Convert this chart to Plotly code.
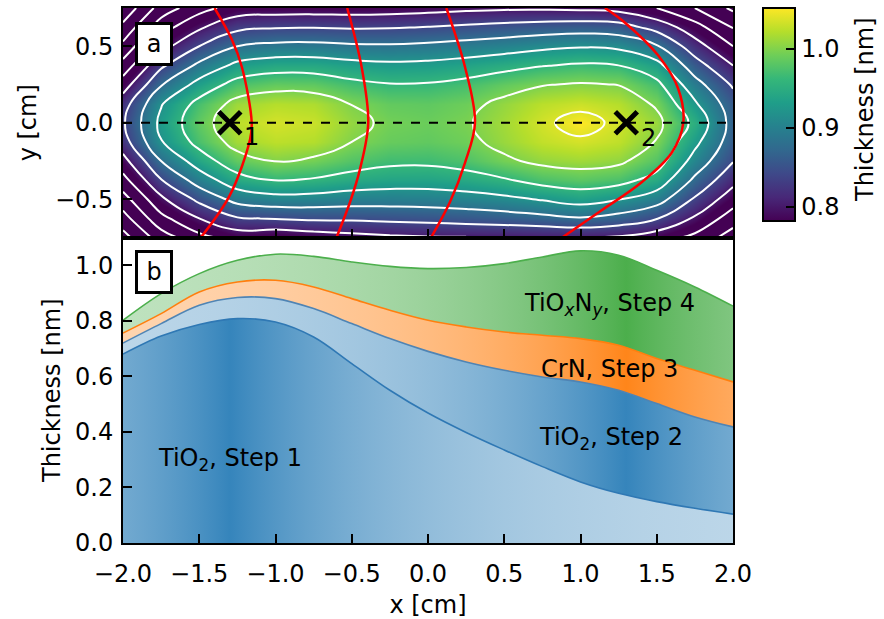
import numpy as np
import plotly.graph_objects as go

# ---------------- data: panel a (thickness map) ----------------
MAP_X = [-2.0, -1.75, -1.5, -1.25, -1.0, -0.75, -0.5, -0.25, 0.0,
         0.25, 0.5, 0.75, 1.0, 1.25, 1.5, 1.75, 2.0]
MAP_Y = [-0.75, -0.625, -0.5, -0.375, -0.25, -0.125, 0.0,
         0.125, 0.25, 0.375, 0.5, 0.625, 0.75]
# one list per x column, values from y=-0.75 up to y=0.75 (nm)
MAP_COLUMNS = [
    [0.625, 0.664, 0.703, 0.746, 0.786, 0.823, 0.835, 0.822, 0.780, 0.735, 0.690, 0.650, 0.610],
    [0.700, 0.748, 0.792, 0.838, 0.880, 0.918, 0.930, 0.917, 0.877, 0.832, 0.785, 0.742, 0.697],
    [0.748, 0.800, 0.850, 0.898, 0.940, 0.973, 0.985, 0.972, 0.934, 0.889, 0.840, 0.794, 0.745],
    [0.776, 0.837, 0.893, 0.945, 0.985, 1.014, 1.025, 1.012, 0.975, 0.930, 0.880, 0.830, 0.777],
    [0.770, 0.842, 0.905, 0.961, 1.001, 1.025, 1.035, 1.022, 0.987, 0.942, 0.890, 0.837, 0.780],
    [0.779, 0.847, 0.904, 0.956, 0.994, 1.021, 1.030, 1.019, 0.985, 0.942, 0.891, 0.838, 0.781],
    [0.787, 0.847, 0.899, 0.945, 0.978, 1.000, 1.008, 0.999, 0.970, 0.933, 0.886, 0.836, 0.780],
    [0.793, 0.850, 0.898, 0.939, 0.968, 0.988, 0.994, 0.986, 0.962, 0.928, 0.885, 0.837, 0.782],
    [0.797, 0.853, 0.899, 0.938, 0.967, 0.985, 0.990, 0.984, 0.963, 0.930, 0.889, 0.841, 0.786],
    [0.798, 0.857, 0.904, 0.944, 0.975, 0.992, 0.997, 0.991, 0.971, 0.937, 0.895, 0.847, 0.791],
    [0.798, 0.862, 0.911, 0.956, 0.994, 1.010, 1.014, 1.008, 0.986, 0.947, 0.902, 0.853, 0.794],
    [0.799, 0.869, 0.923, 0.974, 1.008, 1.027, 1.034, 1.024, 0.998, 0.958, 0.911, 0.858, 0.794],
    [0.800, 0.877, 0.936, 0.982, 1.013, 1.035, 1.052, 1.031, 1.003, 0.965, 0.917, 0.861, 0.792],
    [0.795, 0.866, 0.921, 0.974, 1.007, 1.026, 1.033, 1.022, 0.999, 0.960, 0.912, 0.857, 0.786],
    [0.778, 0.842, 0.898, 0.945, 0.978, 0.998, 1.010, 0.995, 0.970, 0.933, 0.884, 0.826, 0.760],
    [0.750, 0.795, 0.835, 0.872, 0.905, 0.930, 0.950, 0.925, 0.895, 0.858, 0.818, 0.776, 0.720],
    [0.700, 0.740, 0.778, 0.812, 0.842, 0.860, 0.865, 0.858, 0.835, 0.800, 0.760, 0.718, 0.672],
]
COLOR_MIN, COLOR_MAX = 0.782, 1.052
COLORBAR_TICKS = [0.8, 0.9, 1.0]

# red paths across the map (x, y in cm)
RED_X = [
    [-1.40, -1.287, -1.22, -1.156, -1.167, -1.30, -1.49],
    [-0.53, -0.435, -0.392, -0.446, -0.511, -0.60],
    [0.12, 0.243, 0.308, 0.243, 0.144, 0.02],
    [1.16, 1.292, 1.51, 1.64, 1.674, 1.598, 1.401, 1.139, 0.88],
]
RED_Y = [
    [0.75, 0.546, 0.363, 0.0, -0.11, -0.475, -0.75],
    [0.75, 0.363, 0.0, -0.303, -0.518, -0.75],
    [0.75, 0.363, 0.0, -0.26, -0.518, -0.75],
    [0.75, 0.654, 0.439, 0.224, 0.0, -0.196, -0.389, -0.572, -0.75],
]

MARK_X = [-1.3, 1.3]
MARK_Y = [0.0, 0.0]
MARK_LABELS = ["1", "2"]
MARK_LABEL_X = [-1.155, 1.443]
MARK_LABEL_Y = [-0.09, -0.10]

# ---------------- data: panel b (stacked thickness along y=0) ----------------
PROFILE_X = MAP_X
STEP1_TOP = [0.680, 0.745, 0.787, 0.808, 0.796, 0.742, 0.646, 0.550, 0.468,
             0.398, 0.335, 0.275, 0.220, 0.179, 0.149, 0.125, 0.104]
STEP2_TOP = [0.720, 0.790, 0.856, 0.884, 0.880, 0.844, 0.790, 0.736, 0.690,
             0.652, 0.622, 0.598, 0.580, 0.550, 0.502, 0.454, 0.418]
STEP3_TOP = [0.756, 0.826, 0.904, 0.940, 0.946, 0.922, 0.880, 0.838, 0.802,
             0.778, 0.760, 0.748, 0.736, 0.712, 0.664, 0.622, 0.580]
STEP4_TOP = [0.802, 0.898, 0.970, 1.018, 1.040, 1.032, 1.012, 0.996, 0.988,
             0.992, 1.006, 1.030, 1.052, 1.036, 0.982, 0.922, 0.853]

LAYER_NAMES = ["TiO<sub>2</sub>, Step 1", "TiO<sub>2</sub>, Step 2",
               "CrN, Step 3", "TiO<sub><i>x</i></sub>N<sub><i>y</i></sub>, Step 4"]
LAYER_LABEL_X = [-1.30, 1.20, 1.19, 1.19]
LAYER_LABEL_Y = [0.30, 0.375, 0.625, 0.86]
LAYER_CENTERS = [-1.3, 1.3, 1.3, 1.3]

FONT = "DejaVu Sans"
FS = 24

BLUE = (31, 119, 180)
ORANGE = (255, 127, 14)
GREEN = (44, 160, 44)


def gradient(center, rgb, a_hi, a_lo):
    scale = []
    n = 40
    for i in range(n + 1):
        xv = -2 + 4 * i / n
        a = a_lo + (a_hi - a_lo) * np.exp(-abs(xv - center) / 1.3)
        scale.append([i / n, f"rgba({rgb[0]},{rgb[1]},{rgb[2]},{a:.3f})"])
    return dict(type="horizontal", colorscale=scale, start=-2, stop=2)


Z = np.array(MAP_COLUMNS).T.tolist()

fig = go.Figure()

fig.add_trace(go.Heatmap(
    x=MAP_X, y=MAP_Y, z=Z, zsmooth="best", colorscale="Viridis",
    zmin=COLOR_MIN, zmax=COLOR_MAX, xaxis="x", yaxis="y", hoverinfo="skip",
    colorbar=dict(
        x=1.0492, xanchor="left", y=1.0, yanchor="top", len=0.398,
        lenmode="fraction", thickness=32, thicknessmode="pixels",
        outlinecolor="black", outlinewidth=2, xpad=0, ypad=0,
        ticks="inside", ticklen=10, tickwidth=2, tickcolor="black",
        tickvals=COLORBAR_TICKS, ticktext=[f"{t:.1f}" for t in COLORBAR_TICKS],
        tickfont=dict(family=FONT, size=FS, color="black"),
    ),
))

fig.add_trace(go.Contour(
    x=MAP_X, y=MAP_Y, z=Z, xaxis="x", yaxis="y", showscale=False,
    contours=dict(start=0.60, end=1.04, size=0.04, coloring="none"),
    line=dict(color="white", width=2, smoothing=1.3), hoverinfo="skip",
))

for rx, ry in zip(RED_X, RED_Y):
    fig.add_trace(go.Scatter(x=rx, y=ry, mode="lines", xaxis="x", yaxis="y",
                             line=dict(color="red", width=2.5, shape="spline"),
                             hoverinfo="skip", showlegend=False))

fig.add_trace(go.Scatter(
    x=MARK_X, y=MARK_Y, mode="markers", xaxis="x", yaxis="y",
    marker=dict(symbol="x-thin", size=22, color="black",
                line=dict(color="black", width=5)),
    showlegend=False, hoverinfo="skip"))

# panel b layers
tops = [STEP1_TOP, STEP2_TOP, STEP3_TOP, STEP4_TOP]
grads = [gradient(LAYER_CENTERS[0], BLUE, 0.9, 0.25),
         gradient(LAYER_CENTERS[1], BLUE, 0.9, 0.25),
         gradient(LAYER_CENTERS[2], ORANGE, 0.95, 0.28),
         gradient(LAYER_CENTERS[3], GREEN, 0.85, 0.26)]
line_cols = ["#2f78b4", "#4f84b4", "#ff7f0e", "#4caf4c"]
for i, (top, g, lc) in enumerate(zip(tops, grads, line_cols)):
    fig.add_trace(go.Scatter(
        x=PROFILE_X, y=top, mode="lines", xaxis="x2", yaxis="y2",
        fill="tozeroy" if i == 0 else "tonexty", fillgradient=g,
        line=dict(color=lc, width=1.6, shape="spline", smoothing=1.0),
        showlegend=False, hoverinfo="skip"))

annotations = []
for t, lx, ly in zip(MARK_LABELS, MARK_LABEL_X, MARK_LABEL_Y):
    annotations.append(dict(x=lx, y=ly, xref="x", yref="y", text=t, showarrow=False,
                            font=dict(family=FONT, size=FS, color="black")))
for t, lx, ly in zip(LAYER_NAMES, LAYER_LABEL_X, LAYER_LABEL_Y):
    annotations.append(dict(x=lx, y=ly, xref="x2", yref="y2", text=t, showarrow=False,
                            font=dict(family=FONT, size=FS, color="black")))
for t, yy in (("a", 0.974), ("b", 0.5477)):
    annotations.append(dict(x=0.0197, y=yy, xref="paper", yref="paper", text=t,
                            xanchor="left", yanchor="top", showarrow=False,
                            bgcolor="white", bordercolor="black", borderwidth=3,
                            borderpad=3, width=26, height=32,
                            font=dict(family=FONT, size=FS, color="black")))
# colorbar title
annotations.append(dict(x=1.2164, y=0.8093, xref="paper", yref="paper",
                        text="Thickness [nm]", textangle=-90, showarrow=False,
                        xanchor="center", yanchor="middle",
                        font=dict(family=FONT, size=FS, color="black")))

axis_common = dict(showgrid=False, zeroline=False, showline=True, linecolor="black",
                   linewidth=2, mirror=True, ticks="inside", ticklen=9, tickwidth=2,
                   tickcolor="black", automargin=False,
                   tickfont=dict(family=FONT, size=FS, color="black"))
SPLIT = 0.571

fig.update_layout(
    width=884, height=619,
    margin=dict(l=123, r=151, t=8, b=76, autoexpand=False),
    paper_bgcolor="white", plot_bgcolor="white",
    font=dict(family=FONT, size=FS, color="black"),
    showlegend=False,
    xaxis=dict(domain=[0, 1], range=[-2, 2], anchor="y", dtick=0.5, tick0=-2,
               showticklabels=False, **axis_common),
    yaxis=dict(domain=[SPLIT, 1], range=[-0.75, 0.75], anchor="x",
               tickvals=[-0.5, 0.0, 0.5], tickformat=".1f", ticklabelstandoff=3,
               title=dict(text="y [cm]", standoff=12,
                          font=dict(family=FONT, size=FS)), **axis_common),
    xaxis2=dict(domain=[0, 1], range=[-2, 2], anchor="y2", dtick=0.5, tick0=-2,
                tickformat=".1f", ticklabelstandoff=8,
                title=dict(text="x [cm]", standoff=10,
                           font=dict(family=FONT, size=FS)), **axis_common),
    yaxis2=dict(domain=[0, SPLIT], range=[0, 1.1], anchor="x2", dtick=0.2, tick0=0,
                tickformat=".1f", ticklabelstandoff=3,
                title=dict(text="Thickness [nm]", standoff=8,
                           font=dict(family=FONT, size=FS)), **axis_common),
    shapes=[dict(type="line", xref="x domain", yref="y", x0=0, x1=1, y0=0, y1=0,
                 line=dict(color="black", width=2, dash="dash"))],
    annotations=annotations,
)

fig.write_html("out.html")
